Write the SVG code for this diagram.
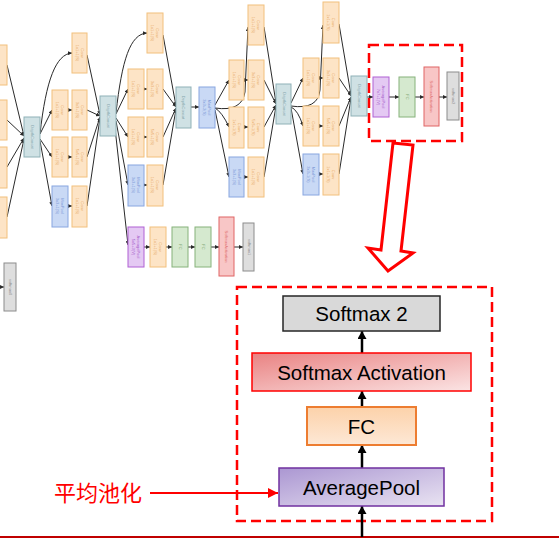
<svg xmlns="http://www.w3.org/2000/svg" width="559" height="538" viewBox="0 0 559 538">
<style>
.t text{font-family:"Liberation Sans",Arial,sans-serif;font-size:4px;text-anchor:middle}
.o rect{fill:#fde4c6;stroke:#f2c07c;stroke-width:1}
.o text{fill:#e8ad6c}
.b rect{fill:#c9d9f5;stroke:#88a6e0;stroke-width:1}
.b text{fill:#7f9bd8}
.d rect{fill:#cfe1e4;stroke:#8fb1b7;stroke-width:1}
.d text{fill:#86a7ad}
.p rect{fill:#e4c9f3;stroke:#b060d4;stroke-width:1}
.p text{fill:#a862cc}
.g rect{fill:#d5e9cf;stroke:#86b27b;stroke-width:1}
.g text{fill:#7fa874}
.r rect{fill:#f8c6c6;stroke:#e06464;stroke-width:1}
.r text{fill:#e07070}
.k rect{fill:#dedede;stroke:#8c8c8c;stroke-width:1}
.k text{fill:#8c8c8c}
.c path,.c line{fill:none;stroke:#2a2a2a;stroke-width:1;marker-end:url(#a)}
.big text{font-family:"Liberation Sans",Arial,sans-serif;font-size:20.5px;fill:#000;text-anchor:middle}
.ba{stroke:#000;stroke-width:2.5;marker-end:url(#A)}
.dash{fill:none;stroke:#ff0000;stroke-width:2.5;stroke-dasharray:10 5}
</style>
<defs>
<marker id="a" viewBox="0 0 6 6" markerWidth="4" markerHeight="4" refX="6" refY="3" orient="auto" markerUnits="userSpaceOnUse"><path d="M0,0 L6,3 L0,6 z" fill="#2a2a2a"/></marker>
<marker id="A" viewBox="0 0 8 9" markerWidth="8" markerHeight="9" refX="8" refY="4.5" orient="auto" markerUnits="userSpaceOnUse"><path d="M0,0 L8,4.5 L0,9 z" fill="#000"/></marker>
<marker id="R" viewBox="0 0 10 10" markerWidth="10" markerHeight="10" refX="10" refY="5" orient="auto" markerUnits="userSpaceOnUse"><path d="M0,0 L10,5 L0,10 z" fill="#ff0000"/></marker>
<linearGradient id="gR" x1="0" y1="0" x2="1" y2="1"><stop offset="0" stop-color="#e98282"/><stop offset="1" stop-color="#fbe4e4"/></linearGradient>
<linearGradient id="gF" x1="0" y1="0" x2="0" y2="1"><stop offset="0" stop-color="#fcd2aa"/><stop offset="1" stop-color="#fde8d6"/></linearGradient>
<linearGradient id="gP" x1="0" y1="0" x2="1" y2="1"><stop offset="0" stop-color="#ab97d2"/><stop offset="1" stop-color="#e9e3f2"/></linearGradient>
</defs>
<rect width="559" height="538" fill="#fff"/>

<!-- connectors -->
<g id="connectors" class="c">
<line x1="7" y1="65" x2="24" y2="136"/>
<line x1="7" y1="120" x2="24" y2="136"/>
<line x1="7" y1="167" x2="24" y2="138"/>
<line x1="7" y1="217" x2="24" y2="139"/>
<line x1="-2" y1="287" x2="4" y2="287"/>
<path d="M40,134 C46,80 56,54 72,53"/>
<line x1="40" y1="134" x2="52" y2="110"/>
<line x1="40" y1="139" x2="52" y2="157"/>
<line x1="40" y1="141" x2="52" y2="206"/>
<line x1="68" y1="110" x2="72" y2="110"/>
<line x1="68" y1="157" x2="72" y2="157"/>
<line x1="68" y1="206" x2="72" y2="206"/>
<line x1="87" y1="55" x2="100" y2="115"/>
<line x1="87" y1="110" x2="100" y2="116"/>
<line x1="87" y1="157" x2="100" y2="117"/>
<line x1="87" y1="206" x2="100" y2="118"/>
<path d="M116,113 C122,60 130,34 147,33"/>
<line x1="116" y1="114" x2="128" y2="89"/>
<line x1="116" y1="118" x2="128" y2="137"/>
<line x1="116" y1="121" x2="128" y2="185"/>
<line x1="115" y1="128" x2="128" y2="245"/>
<line x1="144" y1="89" x2="147" y2="89"/>
<line x1="144" y1="137" x2="147" y2="137"/>
<line x1="144" y1="185" x2="147" y2="185"/>
<line x1="163" y1="35" x2="176" y2="106"/>
<line x1="163" y1="89" x2="176" y2="107"/>
<line x1="163" y1="137" x2="176" y2="108"/>
<line x1="163" y1="185" x2="176" y2="109"/>
<line x1="144" y1="247" x2="150" y2="247"/>
<line x1="166" y1="247" x2="172" y2="247"/>
<line x1="188" y1="247" x2="195" y2="247"/>
<line x1="211" y1="247" x2="219" y2="247"/>
<line x1="234" y1="247" x2="243" y2="247"/>
<line x1="191" y1="107" x2="199" y2="107"/>
<path d="M215,108 Q242,112 245,92 L248,27"/>
<line x1="215" y1="105" x2="229" y2="80"/>
<path d="M215,108 Q222,112 229,127"/>
<line x1="215" y1="110" x2="229" y2="177"/>
<line x1="244" y1="80" x2="248" y2="80"/>
<line x1="244" y1="127" x2="248" y2="127"/>
<line x1="244" y1="177" x2="248" y2="177"/>
<line x1="264" y1="27" x2="276" y2="103"/>
<line x1="264" y1="80" x2="276" y2="104"/>
<line x1="264" y1="127" x2="276" y2="105"/>
<line x1="264" y1="177" x2="276" y2="106"/>
<path d="M291,106 Q318,110 320,90 L323,25"/>
<line x1="291" y1="103" x2="303" y2="78"/>
<path d="M291,107 Q298,110 303,126"/>
<line x1="291" y1="108" x2="303" y2="174"/>
<line x1="319" y1="78" x2="323" y2="78"/>
<line x1="319" y1="126" x2="323" y2="126"/>
<line x1="319" y1="174" x2="323" y2="174"/>
<line x1="339" y1="24" x2="351" y2="95"/>
<line x1="339" y1="78" x2="351" y2="96"/>
<line x1="339" y1="126" x2="351" y2="97"/>
<line x1="339" y1="174" x2="351" y2="98"/>
<line x1="367" y1="97" x2="373" y2="97"/>
<line x1="389" y1="97" x2="399" y2="97"/>
<line x1="415" y1="97" x2="424" y2="97"/>
<line x1="439" y1="97" x2="447" y2="97"/>
</g>

<!-- top network nodes -->
<g class="t">
<g id="a1" class="o"><rect x="-9" y="45" width="16" height="40"/></g>
<g id="a2" class="o"><rect x="-9" y="100" width="16" height="40"/></g>
<g id="a3" class="o"><rect x="-9" y="147" width="16" height="41"/></g>
<g id="a4" class="o"><rect x="-9" y="197" width="16" height="41"/></g>
<g id="softmax0" class="k"><rect x="4" y="263" width="12" height="48"/><text transform="rotate(90 10 287)" x="10" y="288">softmax0</text></g>
<g id="dc1" class="d"><rect x="24" y="117" width="16" height="40"/><text transform="rotate(90 32 137)" x="32" y="138">DepthConcat</text></g>

<g id="i2t" class="o"><rect x="72" y="33" width="15" height="40"/><text transform="rotate(90 79.5 53)" x="79.5" y="53"><tspan x="79.5" dy="-1">Conv</tspan><tspan x="79.5" dy="5">1x1+1(S)</tspan></text></g>
<g id="i2a" class="o"><rect x="52" y="90" width="16" height="40"/><text transform="rotate(90 60 110)" x="60" y="110"><tspan x="60" dy="-1">Conv</tspan><tspan x="60" dy="5">1x1+1(S)</tspan></text></g>
<g id="i2b" class="o"><rect x="72" y="90" width="15" height="40"/><text transform="rotate(90 79.5 110)" x="79.5" y="110"><tspan x="79.5" dy="-1">Conv</tspan><tspan x="79.5" dy="5">3x3+1(S)</tspan></text></g>
<g id="i2c" class="o"><rect x="52" y="137" width="16" height="40"/><text transform="rotate(90 60 157)" x="60" y="157"><tspan x="60" dy="-1">Conv</tspan><tspan x="60" dy="5">1x1+1(S)</tspan></text></g>
<g id="i2d" class="o"><rect x="72" y="137" width="15" height="40"/><text transform="rotate(90 79.5 157)" x="79.5" y="157"><tspan x="79.5" dy="-1">Conv</tspan><tspan x="79.5" dy="5">5x5+1(S)</tspan></text></g>
<g id="i2e" class="b"><rect x="52" y="186" width="16" height="41"/><text transform="rotate(90 60 206)" x="60" y="206"><tspan x="60" dy="-1">MaxPool</tspan><tspan x="60" dy="5">3x3+1(S)</tspan></text></g>
<g id="i2f" class="o"><rect x="72" y="186" width="15" height="41"/><text transform="rotate(90 79.5 206)" x="79.5" y="206"><tspan x="79.5" dy="-1">Conv</tspan><tspan x="79.5" dy="5">1x1+1(S)</tspan></text></g>
<g id="dc2" class="d"><rect x="100" y="96" width="16" height="40"/><text transform="rotate(90 108 116)" x="108" y="117">DepthConcat</text></g>

<g id="i3t" class="o"><rect x="147" y="13" width="16" height="40"/><text transform="rotate(90 155 33)" x="155" y="33"><tspan x="155" dy="-1">Conv</tspan><tspan x="155" dy="5">1x1+1(S)</tspan></text></g>
<g id="i3a" class="o"><rect x="128" y="69" width="16" height="40"/><text transform="rotate(90 136 89)" x="136" y="89"><tspan x="136" dy="-1">Conv</tspan><tspan x="136" dy="5">1x1+1(S)</tspan></text></g>
<g id="i3b" class="o"><rect x="147" y="69" width="16" height="40"/><text transform="rotate(90 155 89)" x="155" y="89"><tspan x="155" dy="-1">Conv</tspan><tspan x="155" dy="5">3x3+1(S)</tspan></text></g>
<g id="i3c" class="o"><rect x="128" y="117" width="16" height="40"/><text transform="rotate(90 136 137)" x="136" y="137"><tspan x="136" dy="-1">Conv</tspan><tspan x="136" dy="5">1x1+1(S)</tspan></text></g>
<g id="i3d" class="o"><rect x="147" y="117" width="16" height="40"/><text transform="rotate(90 155 137)" x="155" y="137"><tspan x="155" dy="-1">Conv</tspan><tspan x="155" dy="5">5x5+1(S)</tspan></text></g>
<g id="i3e" class="b"><rect x="128" y="165" width="16" height="41"/><text transform="rotate(90 136 185)" x="136" y="185"><tspan x="136" dy="-1">MaxPool</tspan><tspan x="136" dy="5">3x3+1(S)</tspan></text></g>
<g id="i3f" class="o"><rect x="147" y="165" width="16" height="41"/><text transform="rotate(90 155 185)" x="155" y="185"><tspan x="155" dy="-1">Conv</tspan><tspan x="155" dy="5">1x1+1(S)</tspan></text></g>

<g id="x1" class="p"><rect x="128" y="227" width="16" height="40"/><text transform="rotate(90 136 247)" x="136" y="247"><tspan x="136" dy="-1">AveragePool</tspan><tspan x="136" dy="5">5x5+3(V)</tspan></text></g>
<g id="x2" class="o"><rect x="150" y="227" width="16" height="40"/><text transform="rotate(90 158 247)" x="158" y="247"><tspan x="158" dy="-1">Conv</tspan><tspan x="158" dy="5">1x1+1(S)</tspan></text></g>
<g id="x3" class="g"><rect x="172" y="227" width="16" height="40"/><text transform="rotate(90 180 247)" x="180" y="248">FC</text></g>
<g id="x4" class="g"><rect x="195" y="227" width="16" height="40"/><text transform="rotate(90 203 247)" x="203" y="248">FC</text></g>
<g id="x5" class="r"><rect x="219" y="217" width="15" height="59"/><text transform="rotate(90 226.5 246.5)" x="226.5" y="248">SoftmaxActivation</text></g>
<g id="x6" class="k"><rect x="243" y="223" width="11" height="48"/><text transform="rotate(90 248.5 247)" x="248.5" y="248">softmax1</text></g>

<g id="dc3" class="d"><rect x="176" y="87" width="15" height="41"/><text transform="rotate(90 183.5 107.5)" x="183.5" y="109">DepthConcat</text></g>
<g id="mp" class="b"><rect x="199" y="87" width="16" height="41"/><text transform="rotate(90 207 107.5)" x="207" y="107.5"><tspan x="207" dy="-1">MaxPool</tspan><tspan x="207" dy="5">3x3+2(S)</tspan></text></g>

<g id="i4t" class="o"><rect x="248" y="5" width="16" height="40"/><text transform="rotate(90 256 25)" x="256" y="25"><tspan x="256" dy="-1">Conv</tspan><tspan x="256" dy="5">1x1+1(S)</tspan></text></g>
<g id="i4a" class="o"><rect x="229" y="60" width="15" height="40"/><text transform="rotate(90 236.5 80)" x="236.5" y="80"><tspan x="236.5" dy="-1">Conv</tspan><tspan x="236.5" dy="5">1x1+1(S)</tspan></text></g>
<g id="i4b" class="o"><rect x="248" y="60" width="16" height="40"/><text transform="rotate(90 256 80)" x="256" y="80"><tspan x="256" dy="-1">Conv</tspan><tspan x="256" dy="5">3x3+1(S)</tspan></text></g>
<g id="i4c" class="o"><rect x="229" y="107" width="15" height="41"/><text transform="rotate(90 236.5 127.5)" x="236.5" y="127.5"><tspan x="236.5" dy="-1">Conv</tspan><tspan x="236.5" dy="5">1x1+1(S)</tspan></text></g>
<g id="i4d" class="o"><rect x="248" y="107" width="16" height="41"/><text transform="rotate(90 256 127.5)" x="256" y="127.5"><tspan x="256" dy="-1">Conv</tspan><tspan x="256" dy="5">5x5+1(S)</tspan></text></g>
<g id="i4e" class="b"><rect x="229" y="157" width="15" height="40"/><text transform="rotate(90 236.5 177)" x="236.5" y="177"><tspan x="236.5" dy="-1">MaxPool</tspan><tspan x="236.5" dy="5">3x3+1(S)</tspan></text></g>
<g id="i4f" class="o"><rect x="248" y="157" width="16" height="40"/><text transform="rotate(90 256 177)" x="256" y="177"><tspan x="256" dy="-1">Conv</tspan><tspan x="256" dy="5">1x1+1(S)</tspan></text></g>
<g id="dc4" class="d"><rect x="276" y="84" width="15" height="40"/><text transform="rotate(90 283.5 104)" x="283.5" y="105">DepthConcat</text></g>

<g id="i5t" class="o"><rect x="323" y="2" width="16" height="41"/><text transform="rotate(90 331 22.5)" x="331" y="22.5"><tspan x="331" dy="-1">Conv</tspan><tspan x="331" dy="5">1x1+1(S)</tspan></text></g>
<g id="i5a" class="o"><rect x="303" y="58" width="16" height="40"/><text transform="rotate(90 311 78)" x="311" y="78"><tspan x="311" dy="-1">Conv</tspan><tspan x="311" dy="5">1x1+1(S)</tspan></text></g>
<g id="i5b" class="o"><rect x="323" y="58" width="16" height="40"/><text transform="rotate(90 331 78)" x="331" y="78"><tspan x="331" dy="-1">Conv</tspan><tspan x="331" dy="5">3x3+1(S)</tspan></text></g>
<g id="i5c" class="o"><rect x="303" y="106" width="16" height="40"/><text transform="rotate(90 311 126)" x="311" y="126"><tspan x="311" dy="-1">Conv</tspan><tspan x="311" dy="5">1x1+1(S)</tspan></text></g>
<g id="i5d" class="o"><rect x="323" y="106" width="16" height="40"/><text transform="rotate(90 331 126)" x="331" y="126"><tspan x="331" dy="-1">Conv</tspan><tspan x="331" dy="5">5x5+1(S)</tspan></text></g>
<g id="i5e" class="b"><rect x="303" y="154" width="16" height="41"/><text transform="rotate(90 311 174.5)" x="311" y="174.5"><tspan x="311" dy="-1">MaxPool</tspan><tspan x="311" dy="5">3x3+1(S)</tspan></text></g>
<g id="i5f" class="o"><rect x="323" y="154" width="16" height="41"/><text transform="rotate(90 331 174.5)" x="331" y="174.5"><tspan x="331" dy="-1">Conv</tspan><tspan x="331" dy="5">1x1+1(S)</tspan></text></g>
<g id="dc5" class="d"><rect x="351" y="76" width="16" height="40"/><text transform="rotate(90 359 96)" x="359" y="97">DepthConcat</text></g>

<g id="e1" class="p"><rect x="373" y="77" width="16" height="40"/><text transform="rotate(90 381 97)" x="381" y="97"><tspan x="381" dy="-1">AveragePool</tspan><tspan x="381" dy="5">7x7+1(V)</tspan></text></g>
<g id="e2" class="g"><rect x="399" y="77" width="16" height="40"/><text transform="rotate(90 407 97)" x="407" y="98">FC</text></g>
<g id="e3" class="r"><rect x="424" y="67" width="15" height="59"/><text transform="rotate(90 431.5 96.5)" x="431.5" y="98">SoftmaxActivation</text></g>
<g id="e4" class="k"><rect x="447" y="72" width="12" height="48"/><text transform="rotate(90 453 96)" x="453" y="97">softmax2</text></g>
</g>

<!-- highlight and hollow arrow -->
<rect id="hl-top" class="dash" x="369" y="45" width="93" height="96"/>
<polygon id="hollow-arrow" points="393,143 413,145 401,251 413,253 388,271 368,248 381,250" fill="#fff" stroke="#ff0000" stroke-width="3" stroke-linejoin="miter"/>

<!-- bottom enlarged -->
<rect id="hl-bottom" class="dash" x="237" y="287" width="255" height="234"/>
<line x1="0" y1="537" x2="559" y2="537" stroke="#c00000" stroke-width="2"/>
<g id="bottom-connectors">
<line class="ba" x1="362" y1="537" x2="362" y2="506"/>
<line class="ba" x1="362" y1="468" x2="362" y2="445"/>
<line class="ba" x1="362" y1="407" x2="362" y2="391"/>
<line class="ba" x1="362" y1="353" x2="362" y2="331"/>
<line x1="150" y1="493" x2="278" y2="493" stroke="#ff0000" stroke-width="2" marker-end="url(#R)"/>
</g>
<g class="big">
<g id="softmax2"><rect x="283" y="296" width="157" height="35" fill="#d9d9d9" stroke="#262626" stroke-width="1.5"/><text x="361.5" y="321">Softmax 2</text></g>
<g id="softmaxact"><rect x="252" y="353" width="219" height="38" fill="url(#gR)" stroke="#ff0000" stroke-width="1.5"/><text x="361.5" y="379.5">Softmax Activation</text></g>
<g id="fc"><rect x="307" y="407" width="109" height="38" fill="url(#gF)" stroke="#ed7d31" stroke-width="2"/><text x="361.5" y="433.5">FC</text></g>
<g id="avgpool"><rect x="279" y="468" width="165" height="38" fill="url(#gP)" stroke="#7030a0" stroke-width="1.5"/><text x="361.5" y="494.5">AveragePool</text></g>
</g>
<g id="label"><text x="54" y="501" font-family="'Noto Sans CJK SC',sans-serif" font-size="22" fill="#ff0000">平均池化</text></g>
</svg>
